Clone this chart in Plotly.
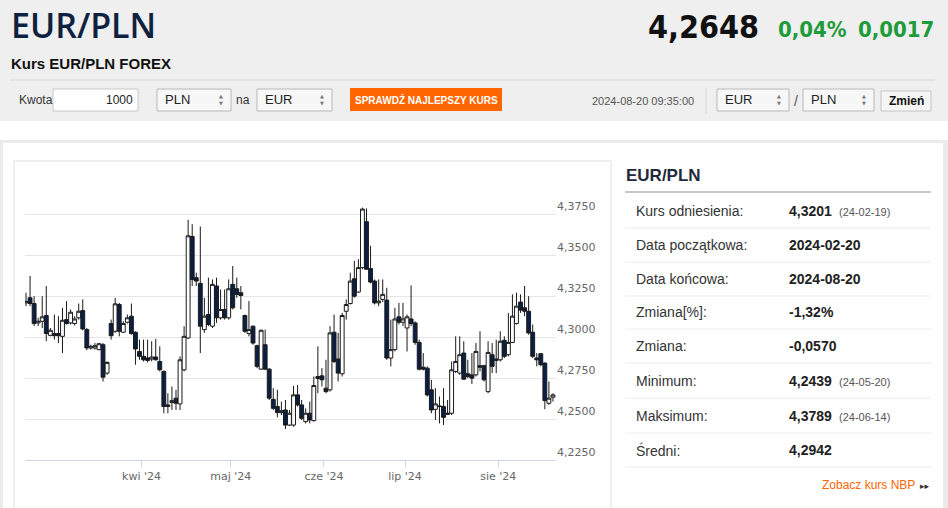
import pandas as pd
import plotly.graph_objects as go

# ---------------- data ----------------
dates = pd.bdate_range("2024-02-20", "2024-08-20")

opens = [4.3208, 4.3239, 4.3204, 4.3086, 4.3096, 4.3131, 4.3010, 4.3021, 4.3021, 4.3004,
         4.3106, 4.3086, 4.3082, 4.3117, 4.3161, 4.3045, 4.2933, 4.2933, 4.2923, 4.2953,
         4.2780, 4.3082, 4.3035, 4.3198, 4.3029, 4.3090, 4.3127, 4.3029, 4.2912, 4.2882,
         4.2872, 4.2866, 4.2878, 4.2851, 4.2790, 4.2576, 4.2600, 4.2627, 4.2592, 4.2800,
         4.2994, 4.3613, 4.3362, 4.3327, 4.3045, 4.3137, 4.3066, 4.3311, 4.3117, 4.3168,
         4.3117, 4.3321, 4.3294, 4.3270, 4.3131, 4.3021, 4.3066, 4.2947, 4.2804, 4.2953,
         4.2804, 4.2620, 4.2576, 4.2539, 4.2555, 4.2463, 4.2463, 4.2647, 4.2586, 4.2484,
         4.2535, 4.2490, 4.2747, 4.2763, 4.2688, 4.2678, 4.3029, 4.2866, 4.2776, 4.3157,
         4.3204, 4.3355, 4.3274, 4.3423, 4.3703, 4.3417, 4.3341, 4.3208, 4.3229, 4.3225,
         4.2872, 4.2923, 4.3123, 4.3090, 4.3055, 4.3110, 4.3086, 4.2967, 4.2816, 4.2810,
         4.2678, 4.2559, 4.2580, 4.2576, 4.2528, 4.2535, 4.2790, 4.2780, 4.2902, 4.2776,
         4.2769, 4.2769, 4.2825, 4.2825, 4.2667, 4.2892, 4.2857, 4.2861, 4.2980, 4.2892,
         4.2967, 4.3082, 4.3213, 4.3178, 4.3157, 4.3029, 4.2872, 4.2898, 4.2841, 4.2596,
         4.2633]
highs = [4.3270, 4.3372, 4.3249, 4.3117, 4.3249, 4.3311, 4.3055, 4.3137, 4.3127, 4.3178,
         4.3219, 4.3168, 4.3127, 4.3204, 4.3229, 4.3055, 4.2953, 4.2963, 4.2963, 4.2963,
         4.2851, 4.3106, 4.3239, 4.3208, 4.3096, 4.3137, 4.3204, 4.3035, 4.2984, 4.2984,
         4.2984, 4.2974, 4.2988, 4.2943, 4.2796, 4.2657, 4.2698, 4.2678, 4.2882, 4.3066,
         4.3715, 4.3688, 4.3392, 4.3674, 4.3239, 4.3362, 4.3351, 4.3362, 4.3290, 4.3290,
         4.3351, 4.3433, 4.3362, 4.3311, 4.3137, 4.3219, 4.3070, 4.2953, 4.3045, 4.3045,
         4.2810, 4.2688, 4.2678, 4.2606, 4.2616, 4.2555, 4.2702, 4.2708, 4.2616, 4.2565,
         4.2606, 4.2759, 4.2943, 4.2810, 4.2861, 4.3066, 4.3137, 4.3025, 4.3147, 4.3229,
         4.3392, 4.3464, 4.3474, 4.3789, 4.3784, 4.3556, 4.3351, 4.3351, 4.3351, 4.3300,
         4.3106, 4.3178, 4.3208, 4.3208, 4.3137, 4.3315, 4.3096, 4.2984, 4.2902, 4.2821,
         4.2739, 4.2688, 4.2637, 4.2688, 4.2616, 4.2851, 4.3004, 4.3004, 4.2974, 4.2861,
         4.2902, 4.2963, 4.3035, 4.2831, 4.2974, 4.2963, 4.2984, 4.3035, 4.3004, 4.3147,
         4.3260, 4.3270, 4.3260, 4.3311, 4.3249, 4.3076, 4.2902, 4.2902, 4.2845, 4.2729,
         4.2657]
lows = [4.3188, 4.3188, 4.3066, 4.3066, 4.3055, 4.2974, 4.3004, 4.2984, 4.2963, 4.2902,
        4.3076, 4.3076, 4.3070, 4.3106, 4.3041, 4.2919, 4.2923, 4.2923, 4.2919, 4.2729,
        4.2769, 4.2984, 4.3025, 4.3004, 4.3025, 4.3082, 4.3014, 4.2831, 4.2861, 4.2851,
        4.2845, 4.2851, 4.2857, 4.2790, 4.2535, 4.2535, 4.2555, 4.2555, 4.2555, 4.2790,
        4.2988, 4.3311, 4.3311, 4.2902, 4.3025, 4.3066, 4.3055, 4.3086, 4.3106, 4.3106,
        4.3106, 4.3168, 4.3239, 4.3168, 4.3025, 4.3004, 4.2953, 4.2810, 4.2800, 4.2800,
        4.2616, 4.2555, 4.2510, 4.2524, 4.2439, 4.2457, 4.2453, 4.2576, 4.2494, 4.2473,
        4.2473, 4.2484, 4.2657, 4.2698, 4.2657, 4.2667, 4.2841, 4.2729, 4.2759, 4.3106,
        4.3198, 4.3239, 4.3270, 4.3413, 4.3409, 4.3327, 4.3198, 4.3188, 4.3213, 4.2861,
        4.2821, 4.2912, 4.3076, 4.3066, 4.2912, 4.3066, 4.2953, 4.2796, 4.2796, 4.2637,
        4.2535, 4.2494, 4.2473, 4.2463, 4.2524, 4.2524, 4.2780, 4.2769, 4.2739, 4.2749,
        4.2714, 4.2759, 4.2790, 4.2729, 4.2657, 4.2780, 4.2780, 4.2851, 4.2872, 4.2882,
        4.2963, 4.3076, 4.3147, 4.3127, 4.3014, 4.2872, 4.2821, 4.2821, 4.2559, 4.2586,
        4.2606]
closes = [4.3217, 4.3204, 4.3082, 4.3096, 4.3123, 4.3021, 4.3041, 4.3008, 4.3008, 4.3102,
          4.3082, 4.3151, 4.3110, 4.3157, 4.3049, 4.2933, 4.2943, 4.2947, 4.2959, 4.2755,
          4.2845, 4.3008, 4.3202, 4.3035, 4.3082, 4.3117, 4.3021, 4.2927, 4.2882, 4.2861,
          4.2857, 4.2878, 4.2861, 4.2800, 4.2576, 4.2586, 4.2612, 4.2596, 4.2861, 4.3004,
          4.3617, 4.3351, 4.3341, 4.3066, 4.3127, 4.3076, 4.3321, 4.3117, 4.3168, 4.3117,
          4.3294, 4.3178, 4.3260, 4.3253, 4.3035, 4.3045, 4.2963, 4.2821, 4.3041, 4.2804,
          4.2627, 4.2565, 4.2539, 4.2551, 4.2463, 4.2535, 4.2647, 4.2586, 4.2504, 4.2535,
          4.2494, 4.2704, 4.2759, 4.2739, 4.2667, 4.3025, 4.2851, 4.2780, 4.3131, 4.3198,
          4.3341, 4.3249, 4.3423, 4.3780, 4.3413, 4.3335, 4.3208, 4.3219, 4.3260, 4.2872,
          4.2923, 4.3110, 4.3090, 4.3110, 4.3123, 4.3082, 4.2967, 4.2804, 4.2804, 4.2647,
          4.2555, 4.2592, 4.2576, 4.2510, 4.2535, 4.2800, 4.2851, 4.2892, 4.2743, 4.2759,
          4.2749, 4.2912, 4.2816, 4.2739, 4.2906, 4.2821, 4.2866, 4.2974, 4.2882, 4.2967,
          4.3127, 4.3188, 4.3164, 4.3157, 4.3025, 4.2882, 4.2861, 4.2831, 4.2612, 4.2627,
          4.2647]

y_ticks = [4.225, 4.25, 4.275, 4.30, 4.325, 4.35, 4.375, 4.40]
y_tick_labels = ["4,2250", "4,2500", "4,2750", "4,3000", "4,3250", "4,3500", "4,3750", ""]
month_starts = ["2024-04-01", "2024-05-01", "2024-06-01", "2024-07-01", "2024-08-01"]
month_labels = ["kwi '24", "maj '24", "cze '24", "lip '24", "sie '24"]

stats_labels = ["Kurs odniesienia:", "Data początkowa:", "Data końcowa:", "Zmiana[%]:",
                "Zmiana:", "Minimum:", "Maksimum:", "Średni:"]
stats_values = ["4,3201", "2024-02-20", "2024-08-20", "-1,32%", "-0,0570", "4,2439", "4,3789", "4,2942"]
stats_dates = ["(24-02-19)", "", "", "", "", "(24-05-20)", "(24-06-14)", ""]

# ---------------- figure ----------------
idx = list(range(len(dates)))
month_pos = [float(dates.searchsorted(pd.Timestamp(m))) - 0.5 for m in month_starts]

W, H = 948, 508
def X(px):
    return px / W
def Y(py):
    return 1 - py / H

shapes = []
annotations = []

def rect(x0, y0, x1, y1, fill, line=None, lw=1, layer="below"):
    shapes.append(dict(type="rect", xref="paper", yref="paper",
                       x0=X(x0), x1=X(x1), y0=Y(y1), y1=Y(y0),
                       fillcolor=fill, layer=layer,
                       line=dict(color=line if line else "rgba(0,0,0,0)", width=lw if line else 0)))

def hline(x0, x1, y, color, w=1):
    shapes.append(dict(type="line", xref="paper", yref="paper",
                       x0=X(x0), x1=X(x1), y0=Y(y), y1=Y(y),
                       line=dict(color=color, width=w), layer="below"))

def vline(x, y0, y1, color, w=1):
    shapes.append(dict(type="line", xref="paper", yref="paper",
                       x0=X(x), x1=X(x), y0=Y(y0), y1=Y(y1),
                       line=dict(color=color, width=w), layer="below"))

def text(x, y, s, size, color, family="Liberation Sans, Arial", weight="normal", anchor="left"):
    annotations.append(dict(xref="paper", yref="paper", x=X(x), y=Y(y), text=s,
                            showarrow=False, xanchor=anchor, yanchor="middle",
                            borderpad=0,
                            font=dict(size=size, color=color, family=family, weight=weight)))

def select(x0, x1, label):
    rect(x0, 89, x1, 111, "#f7f7f7", "#b8b8b8", 1)
    text(x0 + 7, 100, label, 13, "#222")
    text(x1 - 10, 100, "▲<br>▼", 5, "#777", family="DejaVu Sans", anchor="center")

# header background
rect(0, 0, W, 121, "#efefef")
# outer panel
rect(0, 140, W, H + 5, "#ebebeb")
rect(3, 143, 943, H + 5, "#ffffff")
# chart box
rect(14, 161, 611, H + 10, "#ffffff", "#f0f0f0", 2)

# header texts
text(10, 25, "EUR/PLN", 34, "#0e2240", family="Open Sans", weight=600)
text(10, 63, "Kurs EUR/PLN FOREX", 15, "#111", weight="bold")
text(760, 27, "4,2648", 32, "#111", family="DejaVu Sans Condensed, DejaVu Sans", weight="bold", anchor="right")
text(777, 29, "0,04%", 22, "#1f9b3b", family="DejaVu Sans Condensed, DejaVu Sans", weight="bold")
text(935, 29, "0,0017", 22, "#1f9b3b", family="DejaVu Sans Condensed, DejaVu Sans", weight="bold", anchor="right")
hline(10, 935, 80, "#d8d8d8", 1)

# form row
text(18, 100, "Kwota", 12, "#333")
rect(53, 89, 138, 111, "#ffffff", "#c8c8c8", 1)
text(134, 100, "1000", 12, "#222", anchor="right")
select(157, 231, "PLN")
text(243, 100, "na", 12, "#333", anchor="center")
select(257, 332, "EUR")
rect(350, 88, 502, 111, "#ff6600")
text(426, 100, "SPRAWDŹ NAJLEPSZY KURS", 10, "#ffffff", weight="bold", anchor="center")
text(695, 101, "2024-08-20 09:35:00", 11, "#555", anchor="right")
vline(706, 88, 114, "#d8d8d8", 1)
select(717, 789, "EUR")
text(796, 101, "/", 14, "#555", anchor="center")
select(803, 874, "PLN")
rect(881, 91, 931, 111, "#f5f5f5", "#c4c4c4", 1)
text(906, 101, "Zmień", 12, "#111", weight="bold", anchor="center")

# right info panel
text(625, 175, "EUR/PLN", 17, "#1f2a3c", weight="bold")
hline(625, 931, 192, "#c8c8c8", 2)
row_y = [211, 245, 279, 312, 346, 381, 416, 450]
for i, (lab, val, dt) in enumerate(zip(stats_labels, stats_values, stats_dates)):
    yy = row_y[i]
    text(635, yy, lab, 14, "#333")
    text(788, yy, val, 14, "#222", weight="bold")
    if dt:
        text(838, yy + 1, dt, 11, "#555")
    hline(625, 931, yy + 17, "#ececec", 1)
text(916, 485, "Zobacz kurs NBP", 12, "#ff6600", anchor="right")
text(931, 486, "▸▸", 9, "#333", family="DejaVu Sans", anchor="right")

fig = go.Figure(go.Candlestick(
    x=idx, open=opens, high=highs, low=lows, close=closes,
    increasing=dict(fillcolor="#ffffff", line=dict(color="#1a1a1a", width=1)),
    decreasing=dict(fillcolor="#0b1f44", line=dict(color="#1a1a1a", width=1)),
    whiskerwidth=0, hoverinfo="skip",
))

fig.update_layout(
    width=W, height=H,
    margin=dict(l=0, r=0, t=0, b=0),
    paper_bgcolor="#ffffff",
    plot_bgcolor="rgba(0,0,0,0)",
    showlegend=False,
    hovermode=False,
    boxgap=0.05, boxgroupgap=0,
    shapes=shapes,
    annotations=annotations,
    xaxis=dict(
        domain=[X(25), X(556)],
        range=[-0.25, len(dates) - 0.25],
        rangeslider=dict(visible=False),
        showgrid=False, zeroline=False,
        showline=True, linecolor="#ccd6eb", linewidth=1,
        ticks="outside", ticklen=6, tickcolor="#ccd6eb", tickwidth=1,
        tickvals=month_pos, ticktext=month_labels,
        tickfont=dict(size=11, color="#666666", family="DejaVu Sans"),
        fixedrange=True,
    ),
    yaxis=dict(
        domain=[Y(460), Y(173)],
        range=[4.225, 4.40],
        side="right",
        showgrid=True, gridcolor="#e6e6e6", gridwidth=1,
        zeroline=False, showline=False, ticks="",
        tickvals=y_ticks, ticktext=y_tick_labels,
        ticklabelposition="outside top",
        tickfont=dict(size=11, color="#666666", family="DejaVu Sans"),
        fixedrange=True,
    ),
)

fig.write_html("out.html", config={"displayModeBar": False},
               post_script="document.body.style.margin='0';document.body.style.overflow='hidden';")
